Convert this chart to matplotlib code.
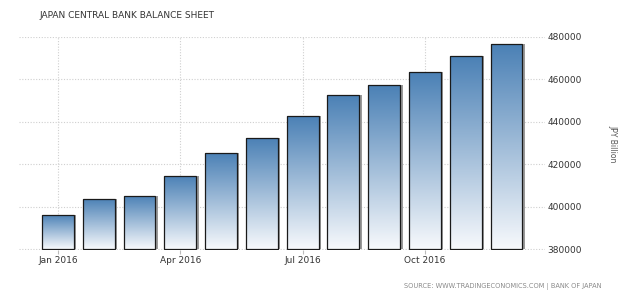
#!/usr/bin/env python3

import numpy as np
import matplotlib
matplotlib.use("Agg")
import matplotlib.pyplot as plt
from matplotlib.colors import LinearSegmentedColormap
import matplotlib.patheffects as pe

# Data (JPY billion), monthly 2016
months = ["Jan", "Feb", "Mar", "Apr", "May", "Jun",
          "Jul", "Aug", "Sep", "Oct", "Nov", "Dec"]
values = [396300, 403700, 405400, 414500, 425500, 432700,
          443000, 452900, 457500, 463300, 471100, 476500]
tick_pos = [0, 3, 6, 9]
tick_labels = ["Jan 2016", "Apr 2016", "Jul 2016", "Oct 2016"]
yticks = [380000, 400000, 420000, 440000, 460000, 480000]
base = 380000

TEXT = "#333333"
GRID = "#cfcfcf"
cmap = LinearSegmentedColormap.from_list("grad", ["#f7f9fc", "#4a80b5"])

fig = plt.figure(figsize=(6.4, 2.98), dpi=100)
ax = fig.add_axes([19 / 640, 1 - 249.5 / 298, (545 - 19) / 640, (249.5 - 37) / 298])

x = np.arange(len(values))
heights = [v - base for v in values]
bars = ax.bar(x, heights, width=0.78, bottom=base, facecolor="none",
              edgecolor="#1a1a1a", linewidth=0.9, zorder=3)

grad = np.linspace(0, 1, 256).reshape(-1, 1)
for b in bars:
    x0, y0 = b.get_x(), b.get_y()
    w, h = b.get_width(), b.get_height()
    # shadow on the right
    sh = plt.Rectangle((x0 + 0.06, y0), w, h, facecolor="#9a9a9a",
                       edgecolor="none", zorder=2)
    ax.add_patch(sh)
    im = ax.imshow(grad, cmap=cmap, aspect="auto", origin="lower",
                   extent=(x0, x0 + w, y0, y0 + h), zorder=2.5)
    im.set_clip_path(b)

ax.set_xlim(-0.957, 11.945)
ax.set_ylim(base, 480000)

ax.set_xticks(tick_pos)
ax.set_xticklabels(tick_labels, fontsize=6.5, color=TEXT)
ax.set_yticks(yticks)
ax.set_yticklabels([str(t) for t in yticks], fontsize=6.5, color=TEXT)
ax.yaxis.tick_right()
ax.tick_params(axis="y", length=0, pad=2)
ax.tick_params(axis="x", length=3, color="#bbbbbb", pad=2)

ax.grid(True, linestyle=(0, (1, 1.5)), color=GRID, linewidth=0.8, zorder=0)
ax.set_axisbelow(True)
for s in ax.spines.values():
    s.set_visible(False)

fig.text(39 / 640, 1 - 16 / 298, "JAPAN CENTRAL BANK BALANCE SHEET",
         fontsize=6.5, color=TEXT, va="center", ha="left")
fig.text(613 / 640, 1 - 144 / 298, "JPY Billion", rotation=270,
         fontsize=5.5, color="#555555", va="center", ha="center")
fig.text(601 / 640, 1 - 286 / 298,
         "SOURCE: WWW.TRADINGECONOMICS.COM | BANK OF JAPAN",
         fontsize=4.8, color="#8a8a8a", va="center", ha="right")

fig.savefig("out.png", dpi=100)
